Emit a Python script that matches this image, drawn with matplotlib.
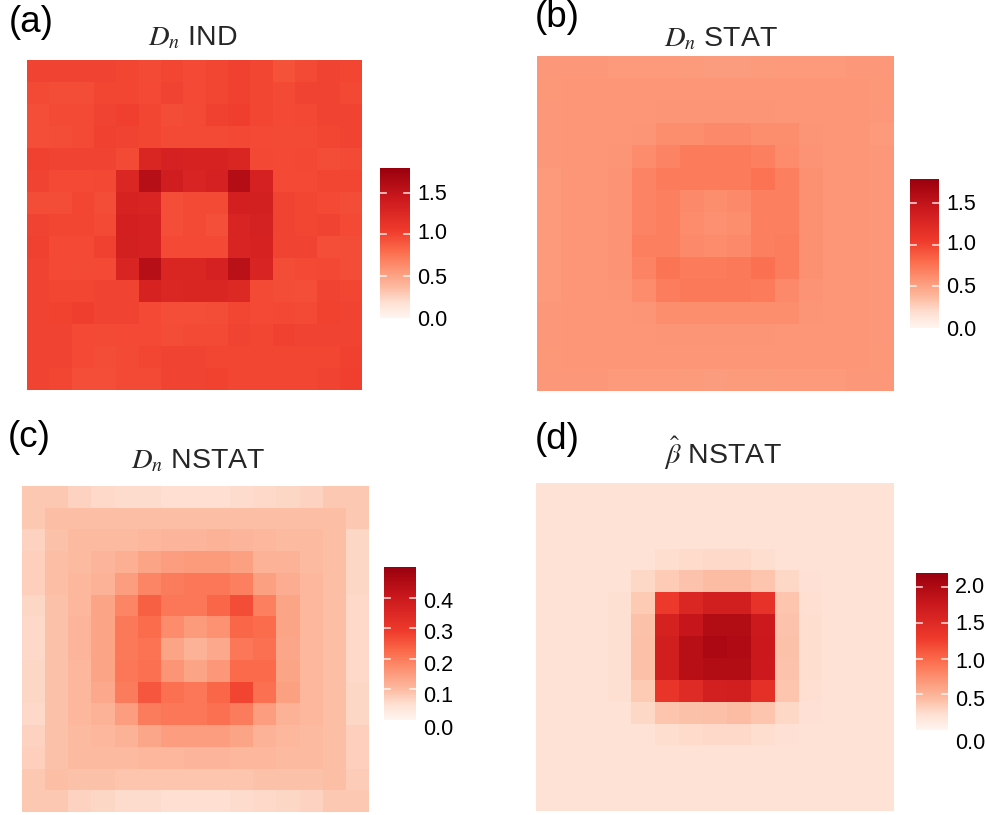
import numpy as np
import matplotlib
matplotlib.use("Agg")
import matplotlib.pyplot as plt
from matplotlib.colors import LinearSegmentedColormap
from matplotlib.transforms import ScaledTranslation

plt.rcParams.update({
    "font.family": ["Liberation Sans", "DejaVu Sans"],
    "mathtext.fontset": "stix",
})

W, H = 986, 815
DPI = 100

# Cell values (15 x 15, top row first)
dn_ind = [
    [1.00, 1.00, 1.00, 1.00, 0.985, 0.97, 0.985, 0.975, 0.985, 1.015, 0.985, 0.93, 0.965, 1.00, 0.985],
    [0.97, 0.96, 0.96, 0.985, 0.985, 0.975, 1.00, 0.975, 0.985, 1.015, 0.985, 0.97, 1.00, 1.00, 0.98],
    [0.95, 0.965, 0.965, 1.00, 1.025, 0.985, 0.96, 0.97, 1.015, 1.03, 0.985, 0.975, 0.98, 1.00, 1.00],
    [0.95, 0.96, 0.97, 1.015, 1.00, 0.985, 0.97, 0.97, 0.97, 0.98, 0.975, 0.965, 0.97, 0.985, 1.00],
    [1.015, 1.00, 1.00, 1.00, 0.965, 1.28, 1.33, 1.32, 1.32, 1.28, 0.98, 0.975, 0.98, 0.96, 0.965],
    [1.00, 0.975, 0.975, 0.98, 1.27, 1.58, 1.38, 1.30, 1.33, 1.60, 1.33, 0.975, 0.975, 0.985, 0.985],
    [0.96, 0.96, 0.985, 0.96, 1.32, 1.30, 0.95, 0.965, 0.97, 1.35, 1.36, 1.00, 0.985, 0.975, 0.96],
    [1.00, 0.985, 0.985, 0.97, 1.35, 1.33, 0.95, 0.97, 0.94, 1.30, 1.34, 1.00, 0.985, 1.00, 0.975],
    [1.015, 0.975, 0.975, 1.015, 1.36, 1.33, 0.975, 0.975, 0.975, 1.30, 1.32, 1.00, 1.00, 0.95, 0.96],
    [1.00, 0.975, 0.97, 0.975, 1.30, 1.58, 1.28, 1.28, 1.33, 1.56, 1.30, 0.96, 0.975, 0.98, 0.96],
    [1.00, 0.985, 0.985, 1.00, 1.00, 1.32, 1.27, 1.28, 1.28, 1.25, 0.97, 0.96, 0.95, 1.00, 0.985],
    [1.00, 1.01, 1.03, 1.00, 1.00, 0.975, 0.95, 0.95, 0.96, 0.985, 0.975, 0.98, 0.965, 1.01, 1.00],
    [1.00, 1.00, 0.975, 0.97, 0.975, 0.975, 0.96, 0.965, 0.97, 1.00, 0.985, 1.015, 1.00, 1.00, 1.00],
    [1.00, 1.00, 0.975, 0.96, 0.97, 0.985, 1.00, 1.00, 0.985, 0.985, 0.985, 0.985, 0.985, 0.985, 1.015],
    [1.00, 0.985, 0.95, 0.95, 0.965, 0.965, 1.00, 1.00, 1.01, 0.985, 0.985, 0.985, 0.985, 1.00, 1.025],
]

dn_stat = [
    [0.56, 0.56, 0.56, 0.555, 0.55, 0.55, 0.545, 0.54, 0.54, 0.545, 0.55, 0.55, 0.555, 0.56, 0.56],
    [0.565, 0.57, 0.57, 0.57, 0.57, 0.57, 0.57, 0.57, 0.57, 0.57, 0.57, 0.57, 0.57, 0.57, 0.565],
    [0.56, 0.57, 0.575, 0.575, 0.575, 0.58, 0.58, 0.58, 0.58, 0.58, 0.575, 0.575, 0.575, 0.57, 0.56],
    [0.56, 0.57, 0.575, 0.575, 0.58, 0.62, 0.62, 0.64, 0.64, 0.62, 0.62, 0.58, 0.575, 0.57, 0.555],
    [0.56, 0.57, 0.575, 0.58, 0.63, 0.68, 0.72, 0.72, 0.72, 0.70, 0.63, 0.585, 0.575, 0.57, 0.56],
    [0.555, 0.57, 0.575, 0.585, 0.67, 0.72, 0.72, 0.72, 0.72, 0.76, 0.70, 0.60, 0.575, 0.57, 0.56],
    [0.55, 0.57, 0.575, 0.585, 0.68, 0.70, 0.64, 0.62, 0.64, 0.70, 0.70, 0.60, 0.575, 0.57, 0.56],
    [0.55, 0.57, 0.575, 0.585, 0.68, 0.70, 0.63, 0.61, 0.62, 0.70, 0.70, 0.60, 0.575, 0.57, 0.56],
    [0.555, 0.57, 0.575, 0.585, 0.69, 0.70, 0.64, 0.63, 0.64, 0.70, 0.71, 0.60, 0.575, 0.57, 0.56],
    [0.555, 0.57, 0.575, 0.585, 0.68, 0.75, 0.72, 0.72, 0.73, 0.78, 0.71, 0.60, 0.575, 0.57, 0.56],
    [0.555, 0.57, 0.575, 0.58, 0.63, 0.71, 0.73, 0.73, 0.73, 0.72, 0.64, 0.585, 0.575, 0.57, 0.56],
    [0.56, 0.57, 0.575, 0.575, 0.58, 0.62, 0.62, 0.62, 0.62, 0.62, 0.62, 0.58, 0.575, 0.57, 0.56],
    [0.56, 0.57, 0.575, 0.575, 0.575, 0.58, 0.58, 0.58, 0.58, 0.58, 0.575, 0.575, 0.575, 0.57, 0.56],
    [0.565, 0.57, 0.57, 0.57, 0.57, 0.57, 0.57, 0.57, 0.57, 0.57, 0.57, 0.57, 0.57, 0.57, 0.565],
    [0.56, 0.56, 0.56, 0.555, 0.55, 0.55, 0.545, 0.54, 0.545, 0.545, 0.55, 0.555, 0.555, 0.56, 0.56],
]

dn_nstat = [
    [0.083, 0.083, 0.069, 0.060, 0.055, 0.055, 0.051, 0.051, 0.051, 0.055, 0.060, 0.064, 0.069, 0.083, 0.083],
    [0.083, 0.097, 0.097, 0.097, 0.097, 0.097, 0.097, 0.097, 0.097, 0.097, 0.097, 0.097, 0.097, 0.097, 0.083],
    [0.069, 0.092, 0.101, 0.101, 0.101, 0.106, 0.110, 0.110, 0.115, 0.110, 0.106, 0.101, 0.101, 0.097, 0.064],
    [0.074, 0.097, 0.101, 0.110, 0.120, 0.138, 0.147, 0.152, 0.152, 0.143, 0.115, 0.115, 0.101, 0.097, 0.064],
    [0.074, 0.097, 0.106, 0.115, 0.147, 0.184, 0.198, 0.207, 0.207, 0.193, 0.143, 0.124, 0.106, 0.097, 0.064],
    [0.064, 0.092, 0.106, 0.138, 0.184, 0.239, 0.207, 0.207, 0.230, 0.267, 0.193, 0.138, 0.106, 0.097, 0.060],
    [0.060, 0.092, 0.110, 0.138, 0.202, 0.221, 0.175, 0.152, 0.166, 0.230, 0.221, 0.138, 0.106, 0.097, 0.060],
    [0.060, 0.092, 0.110, 0.138, 0.202, 0.212, 0.138, 0.115, 0.129, 0.207, 0.216, 0.133, 0.106, 0.097, 0.060],
    [0.064, 0.092, 0.106, 0.138, 0.207, 0.216, 0.161, 0.138, 0.156, 0.225, 0.225, 0.138, 0.106, 0.097, 0.060],
    [0.064, 0.092, 0.106, 0.129, 0.198, 0.253, 0.216, 0.207, 0.230, 0.276, 0.216, 0.143, 0.106, 0.097, 0.064],
    [0.060, 0.092, 0.106, 0.115, 0.147, 0.198, 0.207, 0.207, 0.216, 0.198, 0.147, 0.115, 0.106, 0.097, 0.064],
    [0.069, 0.092, 0.101, 0.106, 0.115, 0.133, 0.147, 0.147, 0.147, 0.138, 0.115, 0.106, 0.101, 0.097, 0.074],
    [0.074, 0.092, 0.101, 0.101, 0.101, 0.106, 0.106, 0.110, 0.110, 0.106, 0.106, 0.101, 0.101, 0.097, 0.074],
    [0.083, 0.097, 0.092, 0.092, 0.087, 0.087, 0.087, 0.087, 0.087, 0.087, 0.092, 0.092, 0.092, 0.097, 0.078],
    [0.083, 0.083, 0.069, 0.064, 0.055, 0.055, 0.051, 0.051, 0.051, 0.055, 0.060, 0.064, 0.069, 0.083, 0.083],
]

beta_nstat = [
    [0.20, 0.20, 0.20, 0.20, 0.20, 0.20, 0.20, 0.20, 0.20, 0.20, 0.20, 0.20, 0.20, 0.20, 0.20],
    [0.20, 0.20, 0.20, 0.20, 0.20, 0.20, 0.20, 0.20, 0.20, 0.20, 0.20, 0.20, 0.20, 0.20, 0.20],
    [0.20, 0.20, 0.20, 0.20, 0.20, 0.20, 0.20, 0.20, 0.20, 0.20, 0.20, 0.20, 0.20, 0.20, 0.20],
    [0.20, 0.20, 0.20, 0.20, 0.205, 0.24, 0.25, 0.26, 0.26, 0.24, 0.205, 0.20, 0.20, 0.20, 0.20],
    [0.20, 0.20, 0.20, 0.20, 0.27, 0.35, 0.40, 0.43, 0.43, 0.38, 0.27, 0.21, 0.20, 0.20, 0.20],
    [0.20, 0.20, 0.20, 0.215, 0.36, 1.30, 1.55, 1.68, 1.68, 1.40, 0.38, 0.23, 0.205, 0.20, 0.20],
    [0.20, 0.20, 0.20, 0.22, 0.41, 1.62, 1.80, 1.98, 1.98, 1.75, 0.40, 0.24, 0.20, 0.20, 0.20],
    [0.20, 0.20, 0.20, 0.22, 0.42, 1.68, 1.92, 2.04, 2.00, 1.76, 0.41, 0.24, 0.20, 0.20, 0.20],
    [0.20, 0.20, 0.20, 0.22, 0.42, 1.68, 1.92, 1.98, 1.98, 1.75, 0.40, 0.24, 0.20, 0.20, 0.20],
    [0.20, 0.20, 0.20, 0.215, 0.36, 1.36, 1.50, 1.66, 1.68, 1.42, 0.38, 0.23, 0.20, 0.20, 0.20],
    [0.20, 0.20, 0.20, 0.205, 0.27, 0.38, 0.41, 0.42, 0.43, 0.38, 0.27, 0.21, 0.20, 0.20, 0.20],
    [0.20, 0.20, 0.20, 0.20, 0.205, 0.24, 0.25, 0.26, 0.26, 0.24, 0.21, 0.20, 0.20, 0.20, 0.20],
    [0.20, 0.20, 0.20, 0.20, 0.20, 0.20, 0.20, 0.20, 0.20, 0.20, 0.20, 0.20, 0.20, 0.20, 0.20],
    [0.20, 0.20, 0.20, 0.20, 0.20, 0.20, 0.20, 0.20, 0.20, 0.20, 0.20, 0.20, 0.20, 0.20, 0.20],
    [0.20, 0.20, 0.20, 0.20, 0.20, 0.20, 0.20, 0.20, 0.20, 0.20, 0.20, 0.20, 0.20, 0.20, 0.20],
]

ticks_ab = [0.0, 0.5, 1.0, 1.5]
ticks_c = [0.0, 0.1, 0.2, 0.3, 0.4]
ticks_d = [0.0, 0.5, 1.0, 1.5, 2.0]

# Colour ramp of the heat maps
reds = LinearSegmentedColormap.from_list("reds", [
    (0.00, "#fff5f0"), (0.10, "#fee0d2"), (0.20, "#fcbba1"), (0.33, "#fc9272"),
    (0.45, "#fb6a4a"), (0.58, "#ef3b2c"), (0.80, "#cb181d"), (1.00, "#99000d"),
])

fig = plt.figure(figsize=(W / DPI, H / DPI), dpi=DPI)


def px_axes(left, top, right, bottom):
    # Axes from pixel edges of the 986x815 canvas
    return fig.add_axes([left / W, 1 - bottom / H, (right - left) / W, (bottom - top) / H])


def draw_panel(values, vmax, ticks, box, cbox, tag, tag_xy, title, title_xy, label_dy, pad):
    ax = px_axes(*box)
    mesh = ax.pcolormesh(np.array(values)[::-1], cmap=reds, vmin=0, vmax=vmax, linewidth=0, rasterized=True)
    ax.set_axis_off()

    cax = px_axes(*cbox)
    cbar = fig.colorbar(mesh, cax=cax)
    cbar.outline.set_visible(False)
    cbar.set_ticks(ticks, labels=[f"{t:.1f}" for t in ticks])
    cax.tick_params(axis="y", length=0, labelsize=15.5, pad=pad, labelcolor="black")
    # short white marks on both sides of the bar
    for t in ticks[1:]:
        cax.plot([0, 0.2], [t, t], color="white", lw=1.2, alpha=0.8, transform=cax.get_yaxis_transform(), clip_on=False)
        cax.plot([0.8, 1], [t, t], color="white", lw=1.2, alpha=0.8, transform=cax.get_yaxis_transform(), clip_on=False)
    cax.set_ylim(0, vmax)
    # the labels sit a little off their marks in the reference
    for lab, dy in zip(cax.get_yticklabels(), label_dy):
        lab.set_transform(lab.get_transform() + ScaledTranslation(0, -dy / DPI, fig.dpi_scale_trans))

    fig.text(tag_xy[0] / W, 1 - tag_xy[1] / H, tag, fontsize=26.5, color="black", ha="left", va="baseline")
    fig.text(title_xy[0] / W, 1 - title_xy[1] / H, title, fontsize=20.5, color="#262626", ha="center", va="baseline")


draw_panel(dn_ind, 1.8, ticks_ab, (27, 60, 362, 390), (380, 168, 410, 317.5), "(a)", (9, 32),
           r"$D_n$ IND", (193, 45), [0, 0, -3, -1], 5)
draw_panel(dn_stat, 1.8, ticks_ab, (537, 56, 894, 391), (910, 178.5, 939, 328), "(b)", (535, 27),
           r"$D_n$ STAT", (721, 46), [0, -1, -3, -1], 5)
draw_panel(dn_nstat, 0.5, ticks_c, (22, 486, 369, 812), (384, 567, 416, 720), "(c)", (8, 447),
           r"$D_n$ NSTAT", (198, 468), [7, 5, 4, 3, 2], 5)
draw_panel(beta_nstat, 2.2, ticks_d, (536, 483, 894, 811), (916, 573, 948, 730), "(d)", (535, 449),
           r"$\hat{\beta}$ NSTAT", (723, 464), [11, 4, 1, -1, -2], 5)

fig.savefig("out.png", dpi=DPI)
